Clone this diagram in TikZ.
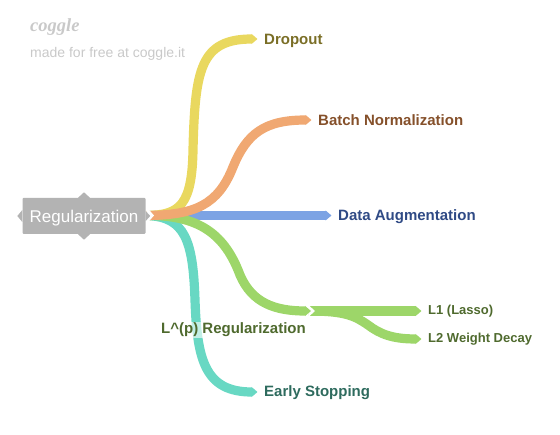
\documentclass[tikz,border=0pt]{standalone}
\usepackage{fontspec}
\setmainfont{Liberation Sans}
\newfontfamily\logofont{Liberation Serif}
\definecolor{rootgray}{HTML}{B3B3B3}
\definecolor{markgray}{HTML}{C9C9C9}
\definecolor{DropYellow}{HTML}{E9D85F}
\definecolor{DropText}{HTML}{7A6E26}
\definecolor{BatchOrange}{HTML}{F0A872}
\definecolor{BatchText}{HTML}{85502A}
\definecolor{DataBlue}{HTML}{7CA3E4}
\definecolor{DataText}{HTML}{2F4A85}
\definecolor{LpGreen}{HTML}{9DD669}
\definecolor{LpText}{HTML}{4F6A2E}
\definecolor{StopTeal}{HTML}{68D8C3}
\definecolor{StopText}{HTML}{2E6B5E}
\usetikzlibrary{arrows.meta}

\begin{document}
\begin{tikzpicture}[
  x=1pt,y=-1pt,
  branch/.style={line width=9.2pt,-{Triangle[length=6pt,width=9.8pt]},shorten >=6.5pt},
  leaf/.style={anchor=west,inner sep=0pt,font=\bfseries\fontsize{15}{18}\selectfont},
  subleaf/.style={anchor=west,inner sep=0pt,font=\bfseries\fontsize{13}{16}\selectfont,text=LpText},
  tipmark/.style={fill=rootgray}
]
  \useasboundingbox (0,0) rectangle (560,435);
  \node[anchor=west,inner sep=0pt,text=markgray,font=\logofont\itshape\bfseries\fontsize{18.5}{22}\selectfont] (logo) at (30,27) {coggle};
  \node[anchor=west,inner sep=0pt,text=markgray,font=\fontsize{14}{17}\selectfont] (madefor) at (30,53.5) {made for free at coggle.it};

  \node[fill=rootgray,rounded corners=1pt,minimum width=123pt,minimum height=36pt,inner sep=0pt] (root) at (84,216) {};
  \node[inner sep=0pt,text=white,font=\fontsize{17}{20}\selectfont] (rootlabel) at (84,218) {Regularization};
  \fill[tipmark] (root.north) ++(-6,0) -- ++(6,-5.5) -- ++(6,5.5) -- cycle;
  \fill[tipmark] (root.south) ++(-6,0) -- ++(6,5.5) -- ++(6,-5.5) -- cycle;
  \fill[tipmark] (root.west) ++(0,-6) -- ++(-5,6) -- ++(5,6) -- cycle;

  \coordinate (hub) at (147,215.5);
  \coordinate (lpjoint) at (317.5,311);
  \coordinate (lpfork) at (309,311);
  \node[leaf,text=DropText] (dropout) at (264,41) {Dropout};
  \node[leaf,text=BatchText] (batchnorm) at (318,120.5) {Batch Normalization};
  \node[leaf,text=DataText] (augment) at (338,216.5) {Data Augmentation};
  \node[leaf,text=StopText] (stopping) at (264,392.5) {Early Stopping};
  \node[subleaf] (lone) at (428,311) {L1 (Lasso)};
  \node[subleaf] (ltwo) at (428,339) {L2 Weight Decay};

  \draw[branch,DataBlue] (hub) -- (augment.west |- hub);
  \draw[branch,StopTeal] (hub) .. controls (185,217) and (193,240) .. (195,300)
    .. controls (197,360) and (205,392) .. (stopping.west |- 0,392);
  \draw[branch,LpGreen] (lpfork) -- (lone.west |- lpfork);
  \draw[branch,LpGreen] (lpfork) .. controls (345,311) and (355,316) .. (368,325)
    .. controls (380,334) and (392,339) .. (ltwo.west |- 0,339);
  \fill[white] (309,305.5) -- (315,311) -- (309,316.5) -- cycle;
  \draw[branch,LpGreen] (hub) .. controls (200,215) and (225,235) .. (240,275)
    .. controls (252,303) and (275,311) .. (lpjoint);
  \draw[branch,DropYellow] (hub) .. controls (180,215) and (192,205) .. (193,150)
    .. controls (195,70) and (200,39) .. (dropout.west |- 0,39);
  \draw[branch,BatchOrange] (hub) .. controls (195,215) and (218,205) .. (233,167)
    .. controls (247,133) and (265,120) .. (batchnorm.west |- 0,120);
  \fill[white] (hub) ++(0,-8) -- ++(7,8) -- ++(-7,8) -- cycle;
  \fill[tipmark] (root.east) ++(0,-5) -- ++(4.5,5) -- ++(-4.5,5) -- cycle;

  \node[anchor=west,inner sep=1pt,fill=white,fill opacity=0.6,text opacity=1,text=LpText,font=\bfseries\fontsize{15}{18}\selectfont] (lpreg) at (160,330) {L\textasciicircum(p) Regularization};
\end{tikzpicture}
\end{document}
